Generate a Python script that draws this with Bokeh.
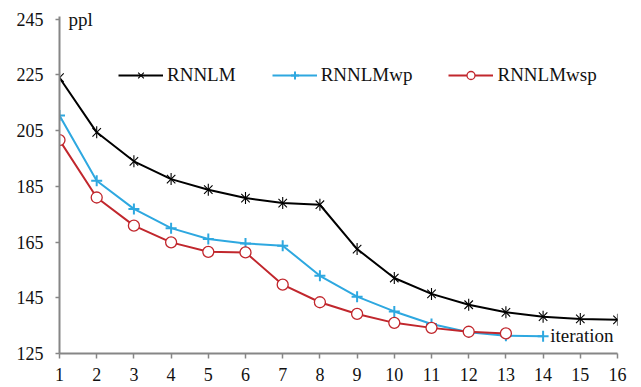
from bokeh.plotting import figure
from bokeh.models import Range1d, FixedTicker, Label, Legend
from bokeh.embed import file_html
from bokeh.resources import INLINE
import math

iterations = list(range(1, 17))
rnnlm = [224.0, 204.4, 194.0, 187.6, 183.8, 180.8, 179.0, 178.4, 162.5, 152.1, 146.4, 142.5, 139.8, 138.2, 137.4, 137.1]
rnnlm_wp = [210.4, 187.0, 176.9, 170.0, 166.1, 164.5, 163.7, 152.9, 145.4, 140.1, 135.6, 132.6, 131.4, 131.2]
rnnlm_wsp = [201.6, 181.0, 170.9, 164.9, 161.5, 161.3, 149.7, 143.4, 139.2, 136.0, 134.2, 132.8, 132.2]
y_ticks = [125, 145, 165, 185, 205, 225, 245]

FONT = "Liberation Serif"
AXIS_COLOR = "#868686"
BLACK = "#000000"
BLUE = "#2EA8E0"
RED = "#C1272D"
TEXT = "#111111"

p = figure(width=633, height=387, output_backend="svg", toolbar_location=None,
           x_range=Range1d(1, 16), y_range=Range1d(125, 251),
           min_border_left=59, min_border_right=16, min_border_top=2, min_border_bottom=34)
p.outline_line_color = None
p.xgrid.visible = False
p.ygrid.visible = False

for ax in (p.xaxis[0], p.yaxis[0]):
    ax.axis_line_color = AXIS_COLOR
    ax.axis_line_width = 2
    ax.major_tick_line_color = AXIS_COLOR
    ax.major_tick_line_width = 1.5
    ax.minor_tick_line_color = None
    ax.major_label_text_font = FONT
    ax.major_label_text_font_size = "18px"
    ax.major_label_text_color = TEXT

p.xaxis.ticker = FixedTicker(ticks=iterations)
p.xaxis.major_tick_in = 0
p.xaxis.major_tick_out = 5
p.xaxis.major_label_standoff = 9
p.yaxis.ticker = FixedTicker(ticks=y_ticks)
p.yaxis.bounds = (125, 246)
p.yaxis.major_tick_in = 0
p.yaxis.major_tick_out = 4
p.yaxis.major_label_standoff = 12

x1 = iterations[:len(rnnlm)]
x2 = iterations[:len(rnnlm_wp)]
x3 = iterations[:len(rnnlm_wsp)]

r1 = [
    p.line(x1, rnnlm, line_color=BLACK, line_width=2),
    p.scatter(x1, rnnlm, marker="x", size=12, line_color=BLACK, line_width=1.1),
    p.scatter(x1, rnnlm, marker="dash", angle=math.pi / 2, size=12, line_color=BLACK, line_width=1.1),
]
r2 = [
    p.line(x2, rnnlm_wp, line_color=BLUE, line_width=2),
    p.scatter(x2, rnnlm_wp, marker="cross", size=11, line_color=BLUE, line_width=2),
]
r3 = [
    p.line(x3, rnnlm_wsp, line_color=RED, line_width=2),
    p.scatter(x3, rnnlm_wsp, marker="circle", size=11, line_color=RED, fill_color="white", line_width=1.3),
]

legend = Legend(items=[("RNNLM", r1), ("RNNLMwp", r2), ("RNNLMwsp", r3)],
                orientation="horizontal", location=(59, 267),
                label_text_font=FONT, label_text_font_size="19px", label_text_color=TEXT,
                glyph_width=45, glyph_height=20, label_standoff=4, spacing=36,
                padding=0, margin=0, border_line_alpha=0, background_fill_alpha=0)
p.add_layout(legend, "center")

p.add_layout(Label(x=1, y=245, x_offset=9, text="ppl", text_font=FONT, text_font_size="19px",
                   text_baseline="middle", text_align="left", text_color=TEXT))
p.add_layout(Label(x=16, y=131.3, x_offset=-4, text="iteration", text_font=FONT, text_font_size="19px",
                   text_baseline="middle", text_align="right", text_color=TEXT))

open("out.html", "w").write(file_html(p, INLINE))
